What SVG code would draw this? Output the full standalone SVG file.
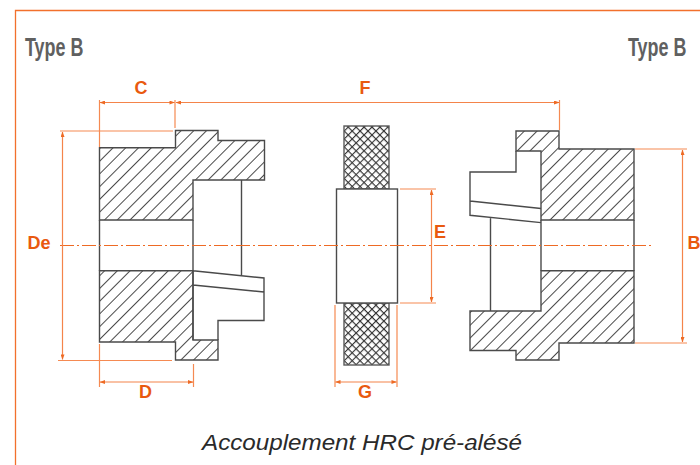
<svg xmlns="http://www.w3.org/2000/svg" width="700" height="465" viewBox="0 0 700 465">
<style>
.o{fill:none;stroke:#4a4a4a;stroke-width:1.4}
.h{fill:url(#hatch);stroke:#4a4a4a;stroke-width:1.4}
.k{fill:url(#cross);stroke:#5a5a5a;stroke-width:1.4}
.d{fill:none;stroke:#f58a52;stroke-width:1.2}
.a{fill:none;stroke:#f4844a;stroke-width:1.2;marker-start:url(#ar);marker-end:url(#ar)}
.c{fill:none;stroke:#ee6a24;stroke-width:1;stroke-dasharray:14 3 2 3}
.l{font-family:"Liberation Sans",Arial,sans-serif;font-weight:700;font-size:18px;fill:#e9590f;text-anchor:middle}
.t{font-family:"Liberation Sans",Arial,sans-serif;font-weight:700;font-size:26px;fill:#606060}
</style>
<defs>
<pattern id="hatch" width="9" height="9" patternUnits="userSpaceOnUse" patternTransform="rotate(-45 99 147)">
<rect width="9" height="9" fill="#fff"/><line x1="0" y1="4.500" x2="9" y2="4.500" stroke="#4a4a4a" stroke-width="1"/>
</pattern>
<pattern id="cross" width="5.600" height="5.600" patternUnits="userSpaceOnUse" patternTransform="rotate(45 344 126)">
<rect width="5.600" height="5.600" fill="#fff"/><path d="M0 0H5.600M0 0V5.600" stroke="#333" stroke-width="2.200" fill="none"/>
</pattern>
<marker id="ar" viewBox="0 0 8 6" refX="7.500" refY="3" markerWidth="5.500" markerHeight="4" orient="auto-start-reverse" markerUnits="userSpaceOnUse"><path d="M0 0V6L8 3Z" fill="#ee6a24"/></marker>
</defs>
<rect width="700" height="465" fill="#fff"/>
<path id="frame" d="M15.500 465V10.500H700" fill="none" stroke="#f2702c" stroke-width="1.300"/>
<g id="left-hub">
<path class="h" d="M99.500 147.700H175.500V130.500H218V140.500H264.500V180H193V220H99.500Z"/>
<path class="h" d="M99.500 270.700H193V340H218V360H175.500V342H99.500Z"/>
<path class="o" d="M99.500 220V270.700M193 220V340M241.500 180V275M193 270.700L264 278V320.500H218V340M193 285L264 292"/>
</g>
<g id="spider">
<rect class="k" x="344" y="126" width="45" height="63"/>
<rect class="k" x="344" y="303" width="45" height="62"/>
<rect x="336.500" y="189" width="61" height="114" fill="#fff" stroke="#4a4a4a" stroke-width="1.400"/>
</g>
<g id="right-hub">
<path class="h" d="M516 131H559V149H634V220H541V151H516Z"/>
<path class="h" d="M541 270.700H634V343H559V360H516V350.500H470V311H541Z"/>
<path class="o" d="M516 151V172H470V215.300L541 222.600M470 201L541 208.500M541 220V270.700M634 220V270.700M490.500 218V311"/>
</g>
<g id="connectors">
<line class="c" x1="60" y1="245.500" x2="653" y2="245.500"/>
<path class="d" d="M99.500 100V147M175 100V128M559.500 100V130M60 131H173M58 360.500H172M99.500 344V387M193.500 364V387M400 189H436M400 303H436M335 305V387M397 305V387M635 149H687M635 343H687"/>
<line class="a" x1="100" y1="102.500" x2="174.500" y2="102.500"/>
<line class="a" x1="176" y1="102.500" x2="559" y2="102.500"/>
<line class="a" x1="62.500" y1="132" x2="62.500" y2="359.500"/>
<line class="a" x1="100" y1="382" x2="193" y2="382"/>
<line class="a" x1="431.500" y1="190" x2="431.500" y2="302"/>
<line class="a" x1="335.500" y1="382" x2="396.500" y2="382"/>
<line class="a" x1="682.500" y1="150" x2="682.500" y2="342"/>
</g>
<g id="labels">
<text class="l" x="141" y="94">C</text>
<text class="l" x="365" y="94">F</text>
<text class="l" x="39" y="249">De</text>
<text class="l" x="145.500" y="398">D</text>
<text class="l" x="440" y="238">E</text>
<text class="l" x="365" y="398">G</text>
<text class="l" x="694" y="249">B</text>
<text class="t" transform="translate(25 56) scale(0.69 1)">Type B</text>
<text class="t" transform="translate(628 56) scale(0.69 1)">Type B</text>
<text x="362" y="450" text-anchor="middle" textLength="320" lengthAdjust="spacingAndGlyphs" font-family="Liberation Sans, Arial, sans-serif" font-style="italic" font-size="22" fill="#2a2a2a">Accouplement HRC pré-alésé</text>
</g>
</svg>
